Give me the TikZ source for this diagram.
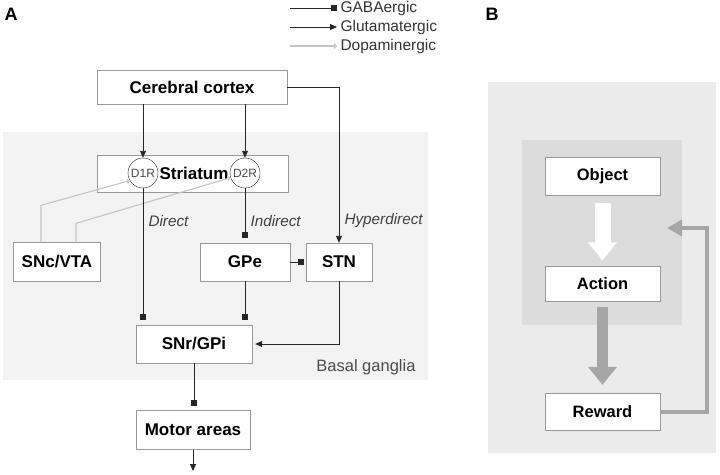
\documentclass[tikz,border=0pt]{standalone}
\usepackage{fontspec}
\setmainfont{Liberation Sans}
\usetikzlibrary{arrows.meta,calc}
\definecolor{bgA}{HTML}{F3F3F3}
\definecolor{bgB}{HTML}{EBEBEB}
\definecolor{bgC}{HTML}{DCDCDC}
\definecolor{fbgray}{HTML}{A6A6A6}
\definecolor{dopagray}{HTML}{C4C4C4}
\tikzset{
  box/.style={draw=black!40, fill=white, inner sep=0pt,
    font=\bfseries\fontsize{17}{19}\selectfont},
  boxb/.style={box, font=\bfseries\fontsize{16.5}{19}\selectfont},
  recep/.style={circle, draw=black!85, fill=white, inner sep=0pt, minimum size=30pt,
    text=black!70, font=\fontsize{12}{14}\selectfont},
  gaba/.style={-{Square[length=6pt,width=6pt]}, line width=0.9pt, black!85},
  glut/.style={-{Triangle[length=7pt,width=6pt]}, line width=0.9pt, black!85},
  dopa/.style={-{Triangle[open,length=3pt,width=6pt]}, line width=1.1pt, dopagray},
  path/.style={font=\itshape\fontsize{15.3}{17}\selectfont, text=black!75, anchor=west},
  legend/.style={font=\fontsize{15.5}{17}\selectfont, text=black!80, anchor=west},
}
\begin{document}
\begin{tikzpicture}[x=1pt,y=-1pt]
        \useasboundingbox (0,0) rectangle (720,474);
        % backgrounds
        \fill[bgA] (3,132) rectangle (428,380);
        \fill[bgB] (488,82) rectangle (716,453);
        \fill[bgC] (522,140) rectangle (682,325);
        % panel letters
        \node[font=\bfseries\fontsize{18}{20}\selectfont] (A) at (11,14) {A};
        \node[font=\bfseries\fontsize{18}{20}\selectfont] (B) at (492,14) {B};
        % legend
        \node[legend] (lgaba) at (337,8) {GABAergic};
        \node[legend] (lglut) at (337,27) {Glutamatergic};
        \node[legend] (ldopa) at (337,46) {Dopaminergic};
        \coordinate (g1) at (290,8);
        \coordinate (g2) at (290,27);
        \coordinate (g3) at (290,46);
        \draw[gaba] (g1) -- (lgaba.west);
        \draw[glut] (g2) -- (lglut.west);
        \draw[dopa] (g3) -- (ldopa.west);
        % panel A nodes
        \node[box, minimum width=190pt, minimum height=34pt] (cortex) at (192,87) {Cerebral cortex};
        \node[box, minimum width=191pt, minimum height=37pt] (str) at (192.5,173.5) {};
        \node[recep] (d1) at (143,173) {D1R};
        \node[recep] (d2) at (245,173) {D2R};
        \node[font=\bfseries\fontsize{17}{19}\selectfont] (strlab) at (194,173) {Striatum};
        \node[box, minimum width=87pt, minimum height=39pt] (snc) at (57,262) {SNc/VTA};
        \node[box, minimum width=90pt, minimum height=38pt] (gpe) at (245,262) {GPe};
        \node[box, minimum width=66pt, minimum height=38pt] (stn) at (339,262) {STN};
        \node[box, minimum width=116pt, minimum height=38pt] (snr) at (194,344) {SNr/GPi};
        \node[box, minimum width=114pt, minimum height=39pt] (motor) at (193,430) {Motor areas};
        \coordinate (out) at (193,471);
        % pathway labels
        \node[path] (ldir) at (145,221) {Direct};
        \node[path] (lind) at (247,221) {Indirect};
        \node[path] (lhyp) at (341,221) {Hyperdirect};
        \node[font=\fontsize{16.5}{18}\selectfont, text=black!70, anchor=east] (bg) at (419,367) {Basal ganglia};
        % panel A connections
        \draw[glut] (cortex.south -| d1) -- (d1.north);
        \draw[glut] (cortex.south -| d2) -- (d2.north);
        \draw[glut] (cortex.east) -| (stn.north);
        \draw[dopa] ([xshift=-16pt]snc.north) -- ++(0,-37) -- (d1.210);
        \draw[dopa] ([xshift=19pt]snc.north) -- ++(0,-19) -- (d2.198);
        \draw[gaba, shorten >=5pt] (d1.south) -- (d1.south |- snr.north);
        \draw[gaba, shorten >=5pt] (d2.south) -- (gpe.north);
        \draw[gaba, shorten >=5pt] (gpe.south) -- (gpe.south |- snr.north);
        \draw[gaba, shorten >=2pt] (gpe.east) -- (stn.west);
        \draw[glut, shorten >=3pt] (stn.south) |- (snr.east);
        \draw[gaba, shorten >=4pt] (snr.south) -- (snr.south |- motor.north);
        \draw[glut] (motor.south) -- (out);
        % panel B nodes
        \node[boxb, minimum width=115pt, minimum height=38pt] (obj) at (602.5,176) {Object};
        \node[boxb, minimum width=115pt, minimum height=35pt] (act) at (602.5,284) {Action};
        \node[boxb, minimum width=115pt, minimum height=37pt] (rew) at (602.5,411.5) {Reward};
        \coordinate (fb) at (707,228);
        \coordinate (fbend) at (667,228);
        % panel B connections
        \draw[white, line width=16pt, -{Triangle[length=18pt,width=28pt]}, shorten <=8pt, shorten >=6pt] (obj.south) -- (act.north);
        \draw[fbgray, line width=11pt, -{Triangle[length=18pt,width=28pt]}, shorten <=5pt, shorten >=8pt] (act.south) -- (rew.north);
        \draw[fbgray, line width=4pt, -{Triangle[length=15pt,width=16pt]}] (rew.east) -| (fb) -- (fbend);
\end{tikzpicture}
\end{document}
